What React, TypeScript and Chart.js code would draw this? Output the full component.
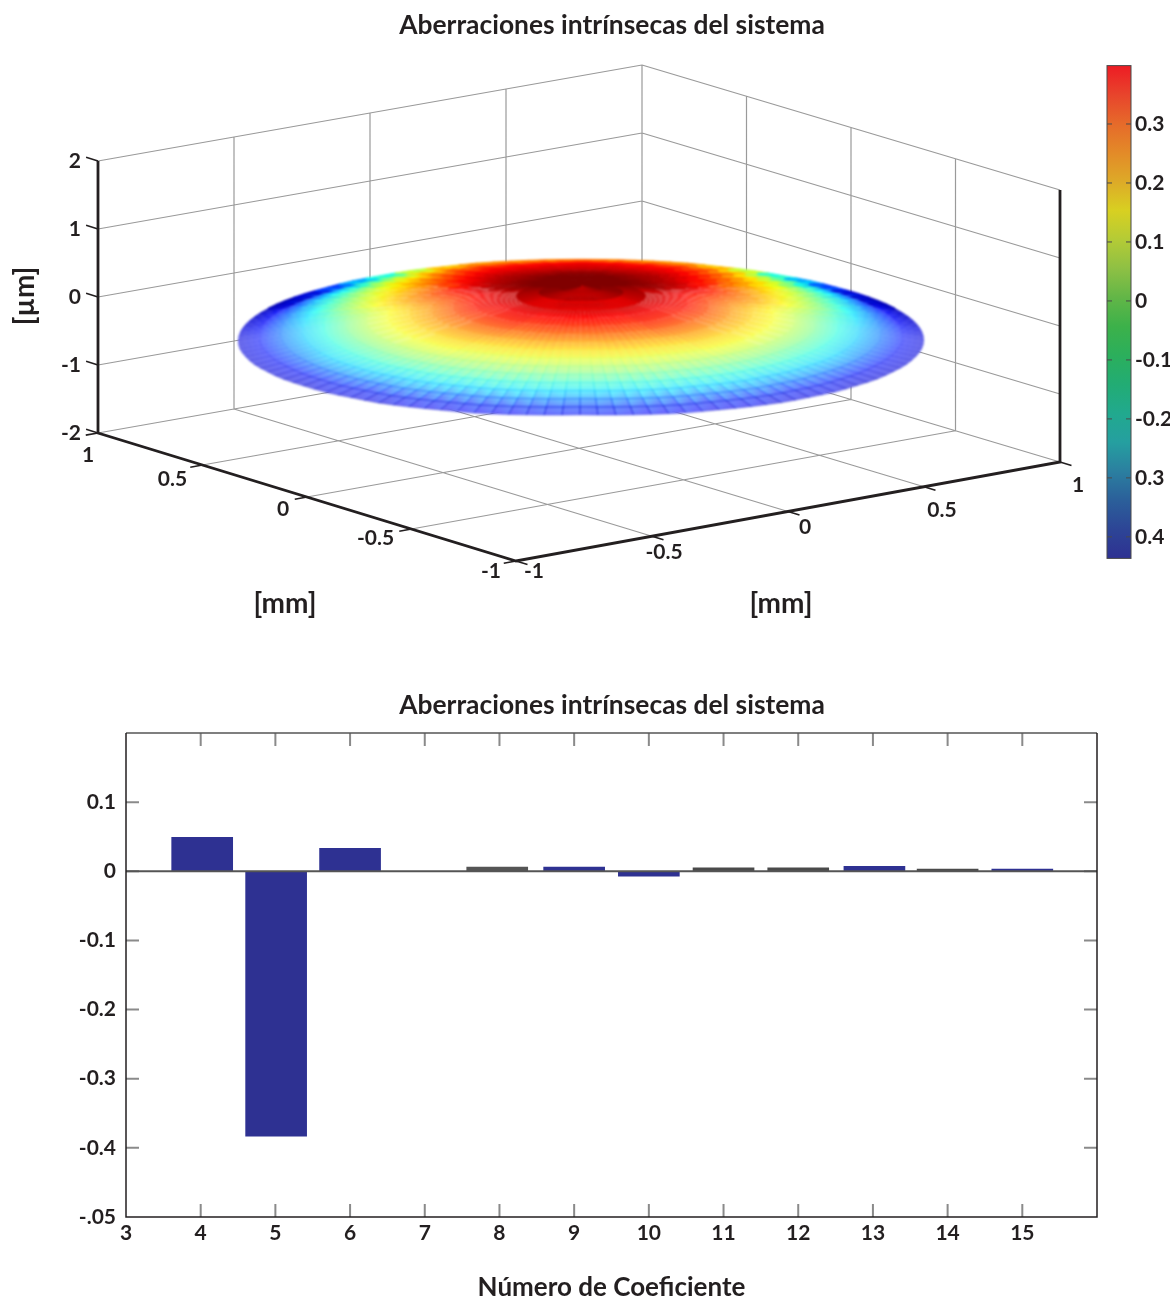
import React, { useEffect, useRef } from "react";
import { Chart, registerables } from "chart.js";
Chart.register(...registerables);

// ---------- data ----------
const TITLE = "Aberraciones intrínsecas del sistema";
const coefNumbers = [4, 5, 6, 7, 8, 9, 10, 11, 12, 13, 14, 15];
const barCentres = [4.02, 5.01, 6, 7, 7.97, 9, 10, 11, 12, 13.02, 14, 15];
const coefValues = [0.049, -0.383, 0.033, 0, 0.006, 0.006, -0.007, 0.005, 0.005, 0.007, 0.003, 0.003];
const coefColors = ["#2E3192", "#2E3192", "#2E3192", "#2E3192", "#555555", "#2E3192", "#2E3192", "#4A4A4A", "#4A4A4A", "#2E3192", "#4A4A4A", "#2E3192"];
const barYLabels: Record<string, string> = { "0.1": "0.1", "0": "0", "-0.1": "-0.1", "-0.2": "-0.2", "-0.3": "-0.3", "-0.4": "-0.4", "-0.5": "-.05" };

const planeTicks = [-1, -0.5, 0, 0.5, 1];
const heightTicks = [-2, -1, 0, 1, 2];
const leftAxisLabels = ["1", "0.5", "0", "-0.5", "-1"];
const rightAxisLabels = ["-1", "-0.5", "0", "0.5", "1"];

const colorbarValues = [0.3, 0.2, 0.1, 0, -0.1, -0.2, -0.3, -0.4];
const colorbarLabels = ["0.3", "0.2", "0.1", "0", "-0.1", "-0.2", "0.3", "0.4"];
const colorbarStops = ["#ED1C24", "#E8442C", "#E66A2A", "#E38A28", "#DDAA28", "#D8D021", "#B4CB36", "#8EC044", "#62B647", "#3CB14A", "#2BAF5C", "#22AC74", "#21A98E", "#259FA0", "#2B7FA0", "#2B5F9A", "#2D4596", "#2E3192"];

// Surface colour level (hundredths of a micron), estimated by eye per ring (centre to rim)
// and per half sector (back to front); the left half mirrors the right.
const surfaceValues = [
  [40,40,40,40,40,40,40,40,40,40,40,40,40,40,40,40,40,40,40,40,40,40,40,40,40,40,40,40,40,40,40],
  [40,40,40,40,40,40,40,40,40,40,40,39,39,39,39,39,39,39,39,39,39,39,39,39,39,39,39,39,39,39,39],
  [40,40,40,40,40,40,40,40,40,39,38,38,37,37,36,36,36,36,36,36,35,35,35,35,35,35,35,35,35,35,35],
  [40,40,40,40,40,40,40,40,39,38,37,35,34,34,33,33,33,33,32,32,32,32,32,32,32,31,31,31,31,31,31],
  [40,40,40,40,40,40,39,39,38,37,35,33,31,31,30,30,30,30,29,29,29,29,29,29,29,28,28,28,28,28,28],
  [40,40,40,40,39,39,38,37,36,34,32,30,28,27,27,26,26,26,26,25,25,25,25,25,25,24,24,24,24,24,24],
  [40,40,40,39,38,37,36,35,33,31,29,26,24,22,21,20,20,20,20,20,20,20,20,20,20,19,19,19,19,19,19],
  [39,39,38,38,37,36,34,32,29,27,25,22,20,18,16,15,15,15,15,15,15,15,15,15,14,14,14,14,14,14,14],
  [38,38,37,36,36,34,31,28,24,22,20,18,16,13,11,10,10,10,10,10,10,10,10,10,9,9,9,9,9,9,9],
  [36,36,35,35,34,32,29,25,20,17,15,13,11,8,6,6,6,6,6,6,6,6,6,6,5,5,5,5,5,5,5],
  [34,34,34,33,32,29,25,20,16,13,10,8,6,3,1,0,0,0,0,0,0,0,0,0,0,0,0,0,0,0,0],
  [33,33,32,31,30,26,21,16,11,8,5,2,0,-3,-5,-6,-6,-6,-6,-6,-6,-5,-5,-5,-5,-5,-5,-5,-5,-5,-5],
  [32,32,31,30,27,22,16,11,6,2,-2,-5,-7,-10,-12,-13,-13,-13,-13,-12,-12,-12,-12,-12,-12,-11,-11,-11,-11,-11,-11],
  [31,30,29,27,24,18,10,4,-2,-6,-10,-13,-16,-18,-19,-20,-20,-20,-20,-19,-19,-19,-19,-19,-18,-18,-18,-18,-17,-17,-17],
  [29,28,26,24,20,12,2,-5,-13,-18,-22,-26,-27,-28,-28,-28,-28,-28,-28,-28,-28,-27,-27,-27,-26,-26,-26,-26,-25,-25,-25],
  [20,19,18,17,13,3,-10,-20,-29,-37,-39,-39,-38,-37,-36,-36,-36,-36,-36,-36,-36,-36,-35,-35,-35,-34,-34,-33,-33,-32,-32],
];
// Mesh geometry: a cone from the estimated pole height to the estimated rim heights.
const poleHeight = 39;
const rimHeights = [-39,-39,-39,-39,-40,-40,-41,-41,-42,-42,-42,-42,-42,-42,-42,-42,-42,-41,-41,-40,-40,-39,-39,-38,-38,-37,-36,-36,-35,-34,-33];

// ---------- view ----------
const FONT = "Lato";
const INK = "#231F20";
const VIEW = { xu: 272, yu: -209, xv: 49.5, yv: 64, zv: 68, sag: 3, cu: 579, cv: 311.5 };
const project = (x: number, y: number, z: number) => ({
  x: VIEW.xu * x + VIEW.yu * y,
  y: VIEW.xv * x + VIEW.yv * y + VIEW.zv * z - (VIEW.sag * (1 + x) * (1 + y)) / 4,
});
const polyline = (...pts: number[][]) => [...pts.map(([x, y, z]) => project(x, y, z)), { x: NaN, y: NaN }];

const gridPts: any[] = [];
planeTicks.forEach((t) => {
  gridPts.push(...polyline([t, -1, -2], [t, 1, -2]), ...polyline([-1, t, -2], [1, t, -2]));
  gridPts.push(...polyline([t, 1, -2], [t, 1, 2]), ...polyline([1, t, -2], [1, t, 2]));
});
heightTicks.forEach((h) => {
  gridPts.push(...polyline([-1, 1, h], [1, 1, h]), ...polyline([1, 1, h], [1, -1, h]));
});
const axisPts: any[] = [
  ...polyline([-1, 1, 2], [-1, 1, -2], [-1, -1, -2], [1, -1, -2], [1, -1, 2]),
];
const tickPts: any[] = [];
planeTicks.forEach((t) => {
  tickPts.push(...polyline([-1, t, -2], [-1.045, t, -2]), ...polyline([t, -1, -2], [t, -1.055, -2]));
});
heightTicks.forEach((h) => tickPts.push(...polyline([-1, 1, h], [-1, 1.057, h])));

// surface vertices
const RINGS = surfaceValues.length;
const HALF = rimHeights.length - 1;
const STEP = 3; // degrees between mesh lines
const SECTORS = 360 / STEP;
const SURFACE_SHIFT = 2;
const rimAt = (deg: number) => {
  const a = Math.abs(deg) / 6;
  return (rimHeights[Math.floor(a)] + rimHeights[Math.min(HALF, Math.ceil(a))]) / 2;
};
const vertex = (ring: number, k: number) => {
  let deg = k * STEP - 3;
  if (deg > 180) deg -= 360;
  const phi = (deg * Math.PI) / 180;
  const r = ring / RINGS;
  const x = r * (Math.cos(phi) * 0.611 + Math.sin(phi) * 0.793);
  const y = r * (Math.cos(phi) * 0.79 - Math.sin(phi) * 0.609);
  const z = (poleHeight + (rimAt(deg) - poleHeight) * r) / 100;
  const p = project(x, y, z);
  return { x: p.x + SURFACE_SHIFT, y: p.y };
};
const surfacePts: any[] = [];
for (let i = 0; i <= RINGS; i++) for (let k = 0; k < SECTORS; k++) surfacePts.push(vertex(i, k));

const jet = (v: number): number[] => {
  const f = Math.max(0, Math.min(1, (v + 0.435) / 0.835));
  const c = (d: number) => Math.round(255 * Math.max(0, Math.min(1, 1.5 - Math.abs(4 * f - d))));
  return [c(3), c(2), c(1)];
};
const clamp01 = (t: number) => Math.max(0, Math.min(1, t));

function drawSurface(chart: any) {
  const { x: sx, y: sy } = chart.scales;
  const off = document.createElement("canvas");
  off.width = chart.width;
  off.height = chart.height;
  const g = off.getContext("2d")!;
  g.lineJoin = "round";
  g.lineWidth = 1;
  const pts = chart.data.datasets[3].data;
  const px = (i: number, k: number) => {
    const p = pts[i * SECTORS + (((k % SECTORS) + SECTORS) % SECTORS)];
    return [sx.getPixelForValue(p.x), sy.getPixelForValue(p.y)];
  };
  // the surface hides the walls behind it
  g.beginPath();
  for (let k = 0; k < SECTORS; k++) {
    const p = px(RINGS, k);
    if (k === 0) g.moveTo(p[0], p[1]);
    else g.lineTo(p[0], p[1]);
  }
  g.closePath();
  g.fillStyle = "#ffffff";
  g.fill();
  for (let i = 0; i < RINGS; i++) {
    for (let k = 0; k < SECTORS; k++) {
      let deg = k * STEP - 3 + STEP / 2;
      if (deg > 180) deg -= 360;
      const j = Math.min(HALF, Math.round(Math.abs(deg) / 6));
      const cur = surfaceValues[i][j];
      const vIn = (cur + surfaceValues[Math.max(0, i - 1)][j]) / 200;
      const vOut = (cur + surfaceValues[Math.min(RINGS - 1, i + 1)][j]) / 200;
      const r = (i + 0.5) / RINGS;
      const cosA = Math.cos((deg * Math.PI) / 180);
      const back = Math.max(0, cosA);
      const front = Math.max(0, -cosA);
      const base = 0.58 + 0.37 * clamp01((0.62 - r) / 0.4);
      let a = base + (1 - base) * Math.max(clamp01(back * 2.2) * clamp01((r - 0.84) / 0.1), clamp01((0.2 - r) / 0.08), clamp01(back * 1.4));
      // speckle seen in the shoulders of the dome
      const shoulder = r > 0.18 && r < 0.6 && cosA > -0.55 && cosA < 0.75;
      if (shoulder && (k + i) % 2 === 0) a *= 0.84;
      const pA = px(i, k), pB = px(i, k + 1), pC = px(i + 1, k + 1), pD = px(i + 1, k);
      const gr = g.createLinearGradient((pA[0] + pB[0]) / 2, (pA[1] + pB[1]) / 2, (pC[0] + pD[0]) / 2, (pC[1] + pD[1]) / 2);
      const [r1, g1, b1] = jet(vIn);
      const [r2, g2, b2] = jet(vOut);
      gr.addColorStop(0, `rgba(${r1},${g1},${b1},${a})`);
      gr.addColorStop(1, `rgba(${r2},${g2},${b2},${a})`);
      g.beginPath();
      g.moveTo(pA[0], pA[1]);
      g.lineTo(pB[0], pB[1]);
      g.lineTo(pC[0], pC[1]);
      g.lineTo(pD[0], pD[1]);
      g.closePath();
      g.fillStyle = gr;
      g.fill();
      const [sr, sg, sb] = jet(cur / 100 - 0.05 * front);
      // opaque cells get an opaque edge, so no white seam shows between them
      const edge = a > 0.97 ? 1 : 0.02 + 0.08 * r + 0.32 * front * r * r;
      g.strokeStyle = `rgba(${sr},${sg},${sb},${edge})`;
      g.stroke();
    }
  }
  const ctx = chart.ctx;
  ctx.save();
  ctx.filter = "blur(1px)";
  ctx.drawImage(off, 0, 0);
  ctx.restore();
}

const surfacePlugin = {
  id: "surfacePlugin",
  afterDatasetsDraw(chart: any) {
    drawSurface(chart);
    const { x: sx, y: sy } = chart.scales;
    const ctx = chart.ctx;
    const at = (x: number, y: number, z: number) => {
      const p = project(x, y, z);
      return [sx.getPixelForValue(p.x), sy.getPixelForValue(p.y)];
    };
    ctx.save();
    ctx.fillStyle = INK;
    ctx.textBaseline = "middle";
    ctx.textAlign = "center";
    ctx.font = `bold 21px ${FONT}`;
    const leftOff = [[-10, 22], [-30, 14], [-24, 12], [-36, 9], [-25, 10]];
    const rightOff = [[18, 10], [12, 16], [17, 15.5], [18, 23], [18, 23]];
    [1, 0.5, 0, -0.5, -1].forEach((t, i) => {
      const [a, b] = at(-1, t, -2);
      ctx.fillText(leftAxisLabels[i], a + leftOff[i][0], b + leftOff[i][1]);
    });
    planeTicks.forEach((t, i) => {
      const [a, b] = at(t, -1, -2);
      ctx.fillText(rightAxisLabels[i], a + rightOff[i][0], b + rightOff[i][1]);
    });
    ctx.textAlign = "right";
    heightTicks.forEach((h) => {
      const [a, b] = at(-1, 1, h);
      ctx.fillText(String(h), a - 17, b);
    });
    ctx.textAlign = "center";
    ctx.font = `bold 28px ${FONT}`;
    ctx.fillText("[mm]", at(-1, 0, -2)[0] - 22, 604);
    ctx.fillText("[mm]", at(0, -1, -2)[0] - 7, 604);
    ctx.translate(25, 296);
    ctx.rotate(-Math.PI / 2);
    ctx.fillText("[µm]", 0, 0);
    ctx.restore();
  },
};

const barPlugin = {
  id: "barPlugin",
  afterDatasetsDraw(chart: any) {
    const { x: sx, y: sy } = chart.scales;
    const { left, right, top, bottom } = chart.chartArea;
    const ctx = chart.ctx;
    ctx.save();
    ctx.strokeStyle = "#8A8A8A";
    ctx.lineWidth = 2;
    ctx.beginPath();
    coefNumbers.forEach((n) => {
      const p = sx.getPixelForValue(n);
      ctx.moveTo(p, top);
      ctx.lineTo(p, top + 13);
      ctx.moveTo(p, bottom);
      ctx.lineTo(p, bottom - 13);
    });
    [0.1, 0, -0.1, -0.2, -0.3, -0.4].forEach((v) => {
      const p = sy.getPixelForValue(v);
      ctx.moveTo(left, p);
      ctx.lineTo(left + 13, p);
      ctx.moveTo(right, p);
      ctx.lineTo(right - 13, p);
    });
    ctx.stroke();
    const z = sy.getPixelForValue(0);
    ctx.strokeStyle = "#555555";
    ctx.beginPath();
    ctx.moveTo(left, z);
    ctx.lineTo(right, z);
    ctx.stroke();
    ctx.lineWidth = 1.5;
    ctx.strokeStyle = "#555555";
    ctx.beginPath();
    ctx.moveTo(left, top);
    ctx.lineTo(right, top);
    ctx.stroke();
    ctx.strokeStyle = "#231F20";
    ctx.beginPath();
    ctx.moveTo(left, top);
    ctx.lineTo(left, bottom);
    ctx.lineTo(right, bottom);
    ctx.lineTo(right, top);
    ctx.stroke();
    ctx.restore();
  },
};

const colorbarPlugin = {
  id: "colorbarPlugin",
  afterDatasetsDraw(chart: any) {
    const sy = chart.scales.y;
    const { left, right, top, bottom } = chart.chartArea;
    const ctx = chart.ctx;
    ctx.save();
    ctx.strokeStyle = "#4A4A4A";
    ctx.lineWidth = 1;
    ctx.strokeRect(left, top, right - left, bottom - top);
    ctx.beginPath();
    colorbarValues.forEach((v) => {
      const p = sy.getPixelForValue(v);
      ctx.moveTo(left, p);
      ctx.lineTo(left + 5, p);
      ctx.moveTo(right, p);
      ctx.lineTo(right - 5, p);
    });
    ctx.stroke();
    ctx.restore();
  },
};

export default function App() {
  const topRef = useRef<HTMLCanvasElement>(null);
  const barRef = useRef<HTMLCanvasElement>(null);
  const cbRef = useRef<HTMLCanvasElement>(null);

  useEffect(() => {
    const titleOpts = (top: number, bottom: number) => ({
      display: true,
      text: TITLE,
      color: INK,
      font: { family: FONT, size: 26.4, weight: "bold" as const },
      padding: { top, bottom },
    });

    const surfaceChart = new Chart(topRef.current!, {
      type: "scatter",
      data: {
        datasets: [
          { label: "axes", data: axisPts, showLine: true, borderColor: INK, borderWidth: 2.8, pointRadius: 0, order: 1, borderJoinStyle: "miter" },
          { label: "ticks", data: tickPts, showLine: true, borderColor: INK, borderWidth: 1.6, pointRadius: 0, order: 2 },
          { label: "grid", data: gridPts, showLine: true, borderColor: "#9A9A9A", borderWidth: 1.2, pointRadius: 0, order: 3 },
          { label: "surface", data: surfacePts, showLine: false, pointRadius: 0, order: 4 },
        ] as any,
      },
      options: {
        responsive: false,
        animation: false,
        devicePixelRatio: 1,
        layout: { padding: 0 },
        plugins: { legend: { display: false }, tooltip: { enabled: false }, title: titleOpts(10, 8.3) },
        scales: {
          x: { type: "linear", display: false, min: -VIEW.cu, max: 1224 - VIEW.cu },
          y: { type: "linear", display: false, min: VIEW.cv - 640, max: VIEW.cv - 50 },
        },
      },
      plugins: [surfacePlugin],
    });

    const colorbar = new Chart(cbRef.current!, {
      type: "bar",
      data: {
        labels: [""],
        datasets: [
          {
            data: [[-0.4365, 0.399]],
            barPercentage: 1,
            categoryPercentage: 1,
            backgroundColor: (c: any) => {
              const a = c.chart.chartArea;
              if (!a) return colorbarStops[0];
              const gr = c.chart.ctx.createLinearGradient(0, a.top, 0, a.bottom);
              colorbarStops.forEach((s, i) => gr.addColorStop(i / (colorbarStops.length - 1), s));
              return gr;
            },
          },
        ] as any,
      },
      options: {
        responsive: false,
        animation: false,
        devicePixelRatio: 1,
        layout: { padding: { left: 17, top: 15, bottom: 5, right: 0 } },
        plugins: { legend: { display: false }, tooltip: { enabled: false } },
        scales: {
          x: { display: false },
          y: {
            position: "right",
            min: -0.4365,
            max: 0.399,
            border: { display: false },
            grid: { display: false, drawTicks: false },
            afterBuildTicks: (s: any) => {
              s.ticks = colorbarValues.map((value) => ({ value }));
            },
            afterFit: (s: any) => {
              s.width = 39;
            },
            ticks: {
              autoSkip: false,
              padding: 4,
              color: INK,
              font: { family: FONT, size: 21, weight: "bold" },
              callback: (v: any) => {
                const i = colorbarValues.findIndex((c) => Math.abs(c - v) < 1e-6);
                return i < 0 ? "" : colorbarLabels[i];
              },
            },
          },
        },
      },
      plugins: [colorbarPlugin],
    } as any);

    const barChart = new Chart(barRef.current!, {
      type: "bar",
      data: {
        datasets: [
          {
            data: barCentres.map((x, i) => ({ x, y: coefValues[i] })),
            backgroundColor: coefColors,
            barThickness: 61,
          },
        ] as any,
      },
      options: {
        responsive: false,
        animation: false,
        devicePixelRatio: 1,
        layout: { padding: 0 },
        plugins: { legend: { display: false }, tooltip: { enabled: false }, title: titleOpts(9.5, 11.8) },
        scales: {
          x: {
            type: "linear",
            offset: false,
            min: 3,
            max: 16,
            border: { display: false },
            grid: { display: false, drawTicks: false },
            afterFit: (s: any) => {
              s.height = 103;
            },
            title: {
              display: true,
              text: "Número de Coeficiente",
              color: INK,
              font: { family: FONT, size: 26, weight: "bold" },
              padding: { top: 0, bottom: 16.5 },
            },
            ticks: {
              stepSize: 1,
              autoSkip: false,
              maxRotation: 0,
              padding: 4,
              color: INK,
              font: { family: FONT, size: 21, weight: "bold" },
              callback: (v: any) => (v >= 16 ? "" : String(v)),
            },
          },
          y: {
            min: -0.5,
            max: 0.2,
            border: { display: false },
            grid: { display: false, drawTicks: false },
            afterFit: (s: any) => {
              s.width = 126;
            },
            ticks: {
              stepSize: 0.1,
              autoSkip: false,
              padding: 10,
              color: INK,
              font: { family: FONT, size: 21, weight: "bold" },
              callback: (v: any) => barYLabels[String(Math.round(Number(v) * 10) / 10)] ?? "",
            },
          },
          yRight: {
            position: "right",
            min: -0.5,
            max: 0.2,
            border: { display: false },
            grid: { display: false, drawTicks: false },
            ticks: { display: false },
            afterFit: (s: any) => {
              s.width = 127;
            },
          },
        },
      },
      plugins: [barPlugin],
    } as any);

    return () => {
      surfaceChart.destroy();
      colorbar.destroy();
      barChart.destroy();
    };
  }, []);

  return (
    <div style={{ position: "absolute", left: 0, top: 0, width: 1170, height: 1299, overflow: "hidden", background: "#fff" }}>
      <canvas ref={topRef} width={1224} height={640} style={{ position: "absolute", left: 0, top: 0 }} />
      <canvas ref={cbRef} width={80} height={526} style={{ position: "absolute", left: 1090, top: 49 }} />
      <canvas ref={barRef} width={1224} height={640} style={{ position: "absolute", left: 0, top: 680 }} />
    </div>
  );
}
